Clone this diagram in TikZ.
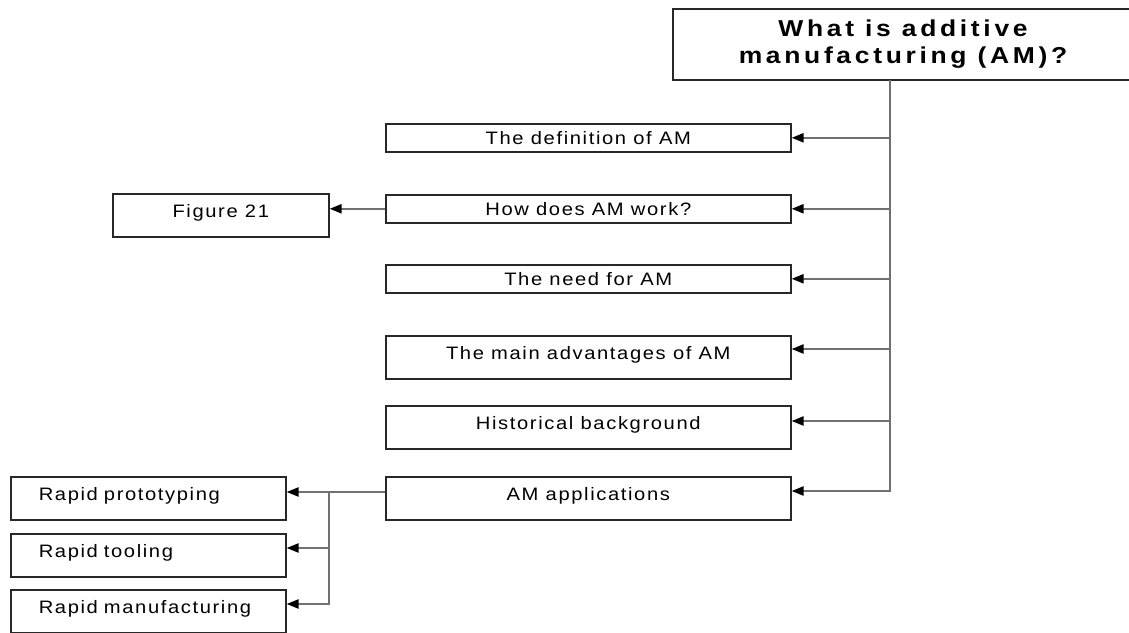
\documentclass[tikz,border=0pt]{standalone}
\usepackage{fontspec}
\setmainfont{Liberation Sans}
\newfontfamily\labelfont[FakeStretch=1.12,LetterSpace=9]{Liberation Sans}
\newfontfamily\titlefont[FakeStretch=1.15,LetterSpace=16]{Liberation Sans}
\usetikzlibrary{arrows.meta,calc}
\definecolor{edge}{RGB}{40,40,40}
\definecolor{wire}{RGB}{112,112,112}

\begin{document}
\begin{tikzpicture}[x=1pt,y=-1pt,
  box/.style={draw=edge, line width=1.6pt, fill=white, inner sep=0pt,
    anchor=north west, minimum width=405pt,
    font=\labelfont\fontsize{18}{22}\selectfont, text height=13pt, text depth=0.5pt},
  short/.style={minimum height=28pt},
  tall/.style={minimum height=43pt, text depth=8.5pt},
  leaf/.style={box, tall, minimum width=275pt, text width=247pt, inner xsep=14pt,
    align=left, execute at begin node={\hspace*{14pt}}},
  frame/.style={draw=edge, line width=1.6pt},
  link/.style={draw=wire, line width=2.2pt},
  feed/.style={-{Triangle[length=12pt,width=9pt,color=black]}}
]
\useasboundingbox[fill=white] (0,0) rectangle (1129,632);

% heading box; it is open on the right, where it runs off the page
\node[minimum width=460pt, minimum height=71pt, inner sep=0pt, align=center,
  font=\titlefont\bfseries\fontsize{23}{27}\selectfont]
  (head) at (903,44.5) {What is additive\\manufacturing (AM)?};
\draw[frame] (head.north east) -- (head.north west) -- (head.south west) -- (head.south east);

% topic boxes
\node[box, short] (def)  at (385,123) {The definition of AM};
\node[box, short] (how)  at (385,194) {How does AM work?};
\node[box, short] (need) at (385,264) {The need for AM};
\node[box, tall]  (adv)  at (385,335) {The main advantages of AM};
\node[box, tall]  (hist) at (385,405) {Historical background};
\node[box, tall]  (apps) at (385,476) {AM applications};

\node[box, tall, minimum width=216pt] (fig) at (112,193) {Figure 21};

\node[leaf] (proto) at (10,476) {Rapid prototyping};
\node[leaf] (tool)  at (10,533) {Rapid tooling};
\node[leaf] (manu)  at (10,589) {Rapid manufacturing};

% entry points of the connectors
\coordinate (spine) at (890,0);
\coordinate (fork)  at (329,0);
\coordinate (advin)   at ([yshift=-14pt]adv.north east);
\coordinate (histin)  at ([yshift=-16pt]hist.north east);
\coordinate (appsin)  at ([yshift=-15pt]apps.north east);
\coordinate (appsout) at ([yshift=-16pt]apps.north west);
\coordinate (toolin)  at ([yshift=-15pt]tool.north east);
\coordinate (manuin)  at ([yshift=-15pt]manu.north east);

% main spine and its branches
\draw[link, feed] (head.south -| spine) |- (appsin);
\draw[link, feed] (def.east -| spine)  -- (def.east);
\draw[link, feed] (how.east -| spine)  -- (how.east);
\draw[link, feed] (need.east -| spine) -- (need.east);
\draw[link, feed] (advin -| spine)     -- (advin);
\draw[link, feed] (histin -| spine)    -- (histin);

% side branches
\draw[link, feed] (how.west) -- (how.west -| fig.east);
\draw[link, feed] (appsout) -- (appsout -| proto.east);
\draw[link, feed] (appsout -| fork) |- (manuin);
\draw[link, feed] (toolin -| fork) -- (toolin);
\end{tikzpicture}
\end{document}
